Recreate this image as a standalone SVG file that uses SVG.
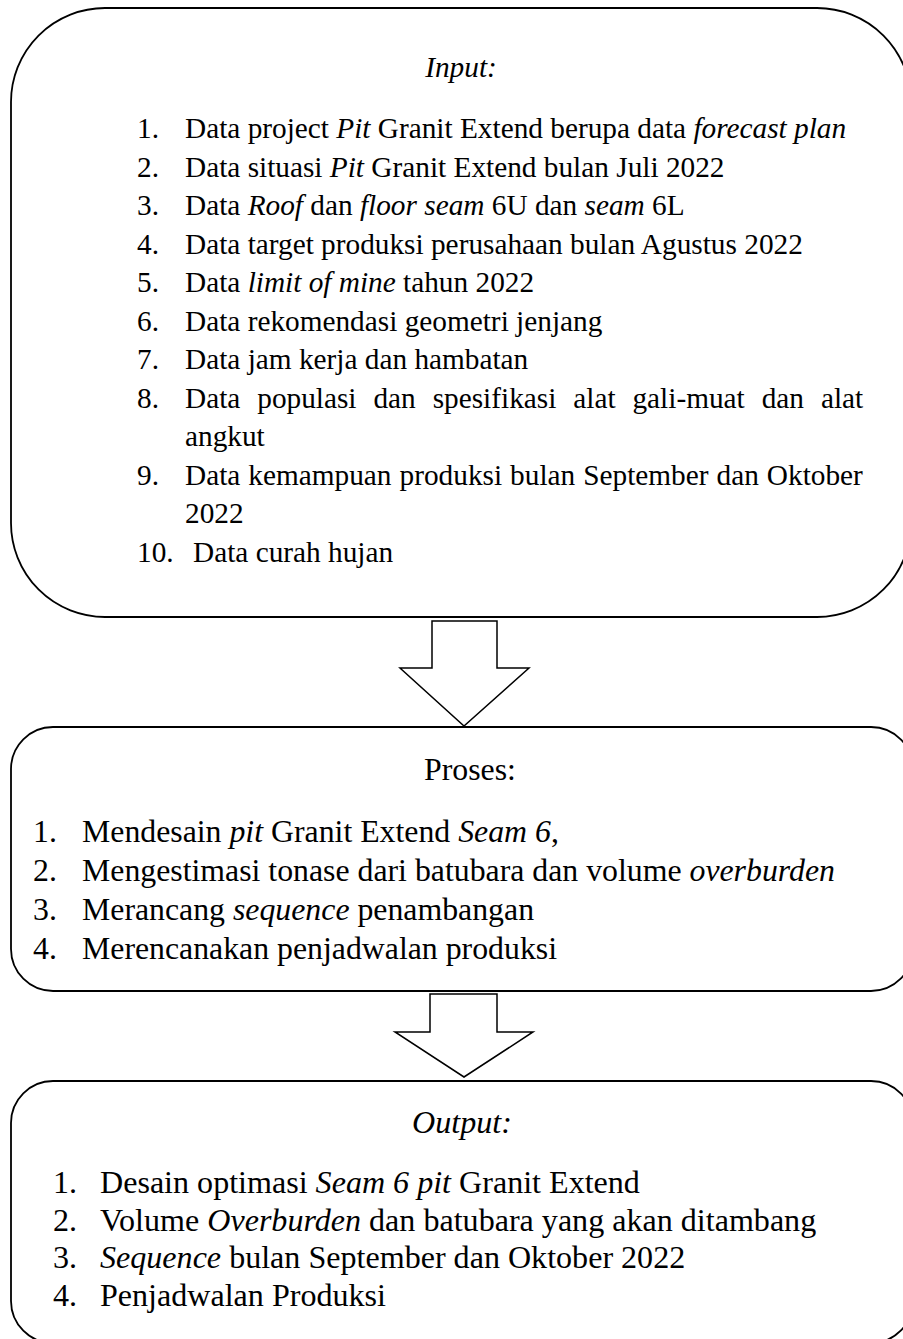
<svg xmlns="http://www.w3.org/2000/svg" width="903" height="1339" viewBox="0 0 903 1339">
<style>
.box{fill:#fff;stroke:#000;stroke-width:1.8}
.arr{fill:#fff;stroke:#000;stroke-width:1.5;stroke-linejoin:miter}
.t1{font-family:"Liberation Serif","Times New Roman",serif;font-size:29.3px;fill:#000}
.t2{font-family:"Liberation Serif","Times New Roman",serif;font-size:31.8px;fill:#000}
.t3{font-family:"Liberation Serif","Times New Roman",serif;font-size:32.1px;fill:#000}
.i{font-style:italic}
</style>
<rect width="903" height="1339" fill="#fff"/>
<g id="input">
<rect class="box" x="11" y="8" width="900" height="609" rx="94" ry="94"/>
<text class="t1 i" x="461" y="77" text-anchor="middle">Input:</text>
<g class="t1">
<text x="137" y="138">1.</text><text x="185" y="138">Data project <tspan class="i">Pit</tspan> Granit Extend berupa data <tspan class="i">forecast plan</tspan></text>
<text x="137" y="176.5">2.</text><text x="185" y="176.5">Data situasi <tspan class="i">Pit</tspan> Granit Extend bulan Juli 2022</text>
<text x="137" y="215">3.</text><text x="185" y="215">Data <tspan class="i">Roof</tspan> dan <tspan class="i">floor seam</tspan> 6U dan <tspan class="i">seam</tspan> 6L</text>
<text x="137" y="253.5">4.</text><text x="185" y="253.5">Data target produksi perusahaan bulan Agustus 2022</text>
<text x="137" y="292">5.</text><text x="185" y="292">Data <tspan class="i">limit of mine</tspan> tahun 2022</text>
<text x="137" y="330.5">6.</text><text x="185" y="330.5">Data rekomendasi geometri jenjang</text>
<text x="137" y="369">7.</text><text x="185" y="369">Data jam kerja dan hambatan</text>
<text x="137" y="407.5">8.</text><text x="185" y="407.5" word-spacing="9.6">Data populasi dan spesifikasi alat gali-muat dan alat</text>
<text x="185" y="446">angkut</text>
<text x="137" y="484.5">9.</text><text x="185" y="484.5" word-spacing="0.7">Data kemampuan produksi bulan September dan Oktober</text>
<text x="185" y="523">2022</text>
<text x="137" y="561.5">10.</text><text x="193" y="561.5">Data curah hujan</text>
</g>
</g>
<g id="proses">
<rect class="box" x="11" y="727" width="902" height="264" rx="42" ry="42"/>
<text class="t2" x="470" y="780" text-anchor="middle">Proses:</text>
<g class="t2">
<text x="33" y="842">1.</text><text x="82" y="842">Mendesain <tspan class="i">pit</tspan> Granit Extend <tspan class="i">Seam 6</tspan>,</text>
<text x="33" y="881">2.</text><text x="82" y="881">Mengestimasi tonase dari batubara dan volume <tspan class="i">overburden</tspan></text>
<text x="33" y="920">3.</text><text x="82" y="920">Merancang <tspan class="i">sequence</tspan> penambangan</text>
<text x="33" y="959">4.</text><text x="82" y="959">Merencanakan penjadwalan produksi</text>
</g>
</g>
<g id="output">
<rect class="box" x="11" y="1081" width="902" height="262" rx="42" ry="42"/>
<text class="t3 i" x="462" y="1133" text-anchor="middle">Output:</text>
<g class="t3">
<text x="53" y="1193">1.</text><text x="100" y="1193">Desain optimasi <tspan class="i">Seam 6 pit</tspan> Granit Extend</text>
<text x="53" y="1230.5">2.</text><text x="100" y="1230.5">Volume <tspan class="i">Overburden</tspan> dan batubara yang akan ditambang</text>
<text x="53" y="1268">3.</text><text x="100" y="1268"><tspan class="i">Sequence</tspan> bulan September dan Oktober 2022</text>
<text x="53" y="1305.5">4.</text><text x="100" y="1305.5">Penjadwalan Produksi</text>
</g>
</g>
<g id="connectors">
<path class="arr" d="M432,621 H497 V668 H529 L464,726 L400,668 H432 Z"/>
<path class="arr" d="M430,994 H497 V1032 H533 L464,1077 L395,1032 H430 Z"/>
</g>
</svg>
